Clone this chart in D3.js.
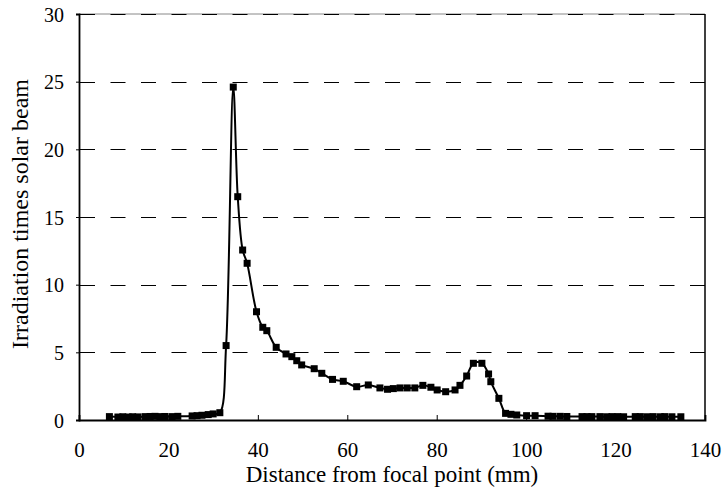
<!DOCTYPE html>
<html><head><meta charset="utf-8">
<script src="https://cdn.jsdelivr.net/npm/d3@7"></script>
<style>body{margin:0;background:#fff}svg{display:block}</style>
</head><body><svg id="c" width="723" height="493"></svg>
<script>
const distance = [6.8,8.7,9.8,11,12,13.2,14.8,15.9,17,18.1,19.2,20.8,22.1,25.3,26.4,27.5,28.9,30,31.5,
  32.9,34.5,35.5,36.6,37.6,39.7,41.1,42,44.1,46.3,47.6,48.7,49.8,52.6,54.3,56.7,59.1,62.1,64.7,67.3,69,70.3,71.8,73.4,75.1,76.9,78.7,80.1,82,84.1,85.2,86.7,88.2,90.1,91.6,92.1,93.9,95.4,96.6,97.9,100.1,102,
  104.9,106,107.6,109.1,112.5,113.6,114.7,116.5,118,119.2,120.5,121.8,124.4,125.5,127,128.4,130,131,132.6,134.6];
const irradiation = [0.25,0.22,0.24,0.22,0.24,0.23,0.25,0.26,0.27,0.25,0.26,0.25,0.27,0.3,0.32,0.35,0.4,0.45,0.54,
  5.5,24.6,16.5,12.56,11.58,8.0,6.85,6.6,5.37,4.88,4.68,4.38,4.07,3.79,3.45,3.0,2.86,2.46,2.59,2.37,2.27,2.32,2.37,2.37,2.37,2.56,2.42,2.22,2.09,2.22,2.56,3.25,4.19,4.19,3.4,2.83,1.6,0.49,0.42,0.37,0.32,0.32,
  0.28,0.27,0.27,0.26,0.25,0.25,0.25,0.25,0.24,0.25,0.25,0.24,0.25,0.25,0.24,0.25,0.24,0.25,0.24,0.24];
const xTicks = [0,20,40,60,80,100,120,140];
const yTicks = [0,5,10,15,20,25,30];
const xTitle = "Distance from focal point  (mm)";
const yTitle = "Irradiation times solar beam";

const FONT = '"Liberation Serif","Times New Roman",Tinos,"DejaVu Serif","Noto Serif",serif';
const svg = d3.select("#c");
const L=79, R=705, T=14, B=420;
const x = d3.scaleLinear().domain([0,140]).range([L,R]);
const y = d3.scaleLinear().domain([0,30]).range([B,T]);
const data = distance.map((d,i)=>({d, v:irradiation[i]}));

svg.append("line").attr("x1",L).attr("x2",R).attr("y1",T).attr("y2",T).attr("stroke","#888").attr("stroke-width",1);
svg.append("g").selectAll("line").data(yTicks.filter(t=>t>0)).join("line")
  .attr("x1",L).attr("x2",R).attr("y1",d=>Math.round(y(d))+0.5).attr("y2",d=>Math.round(y(d))+0.5)
  .attr("stroke","#000").attr("stroke-width",1).attr("stroke-dasharray","15,15.5").attr("stroke-dashoffset",-1);
svg.append("line").attr("x1",R).attr("x2",R).attr("y1",T).attr("y2",B).attr("stroke","#000").attr("stroke-width",1.5);

const xa = svg.append("g").attr("transform",`translate(0,${B})`)
  .call(d3.axisBottom(x).tickValues(xTicks).tickSize(-5).tickPadding(22).tickFormat(d3.format("d")));
xa.attr("font-family",FONT);
xa.select(".domain").attr("stroke-width",1.8);
xa.selectAll("text").attr("font-size",21).attr("font-family",FONT).attr("dy","0.71em");
const ya = svg.append("g").attr("transform",`translate(${L},0)`)
  .call(d3.axisLeft(y).tickValues(yTicks).tickSize(3).tickPadding(12).tickFormat(d3.format("d")));
ya.attr("font-family",FONT);
ya.select(".domain").attr("stroke-width",1.8);
ya.selectAll("text").attr("font-size",20).attr("font-family",FONT).attr("dy","0.35em");

svg.append("path").datum(data)
  .attr("d", d3.line().x(d=>x(d.d)).y(d=>y(d.v)).curve(d3.curveCatmullRom.alpha(0.5)))
  .attr("fill","none").attr("stroke","#000").attr("stroke-width",2);
svg.append("g").selectAll("rect").data(data).join("rect")
  .attr("x",d=>x(d.d)-3.5).attr("y",d=>y(d.v)-3.5).attr("width",7).attr("height",7).attr("fill","#000");

svg.append("text").attr("x",(L+R)/2).attr("y",482).attr("text-anchor","middle").attr("font-size",23).attr("font-family",FONT).text(xTitle);
svg.append("text").attr("transform",`translate(28,${(T+B)/2-3}) rotate(-90)`).attr("text-anchor","middle").attr("font-size",24).attr("font-family",FONT).text(yTitle);
</script></body></html>
